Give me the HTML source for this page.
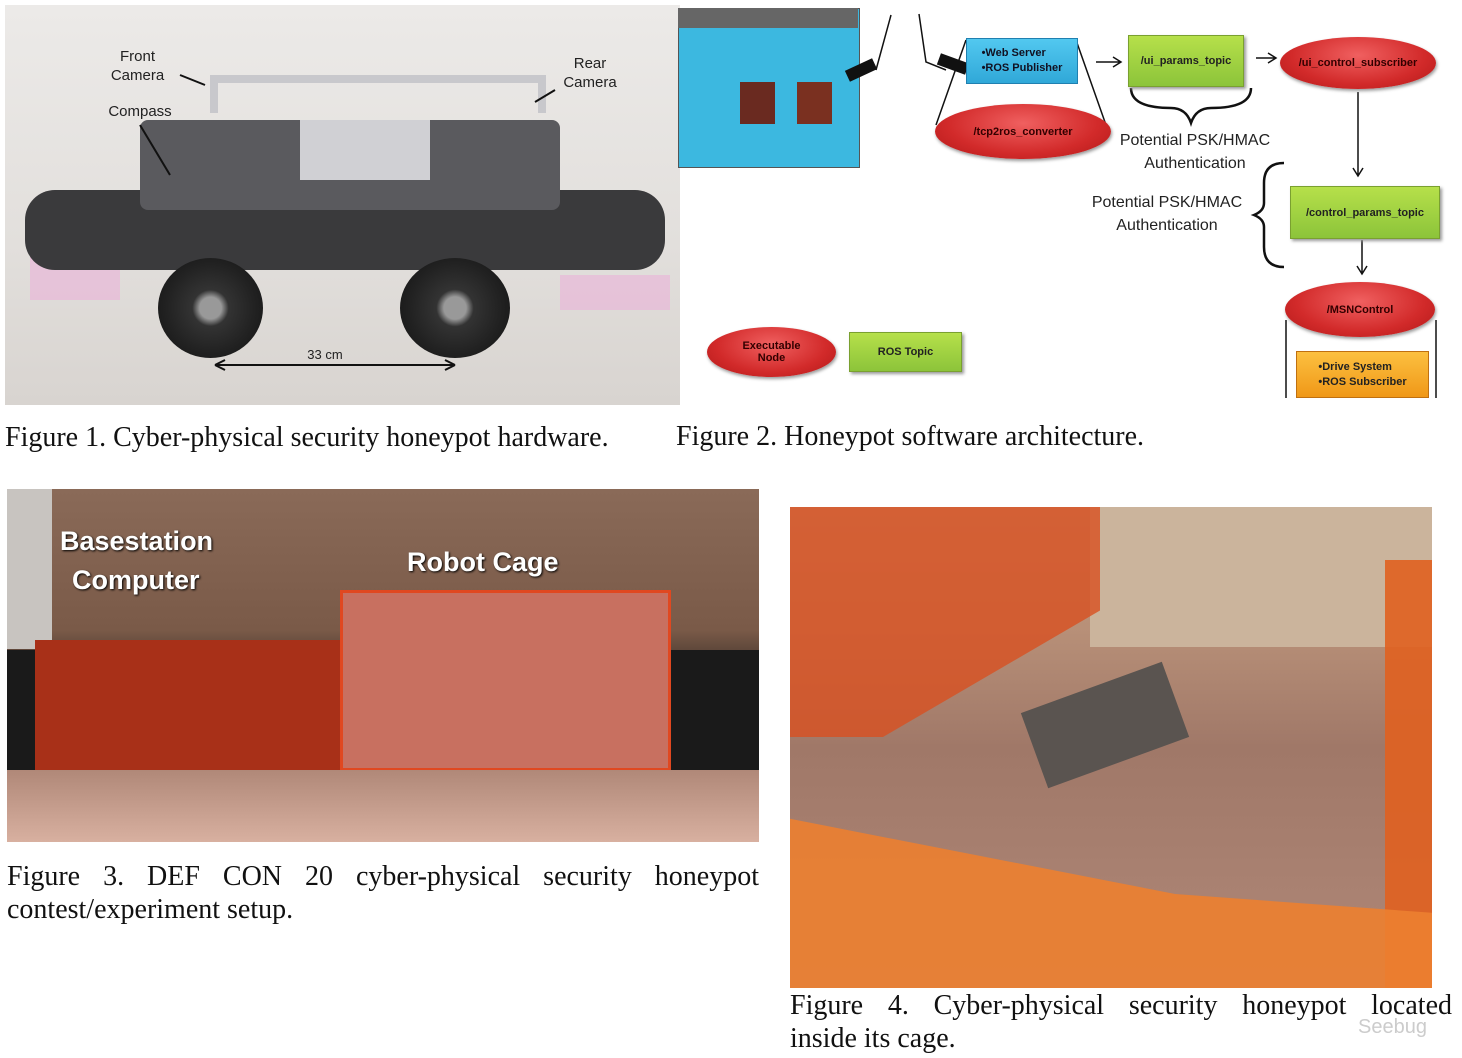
<!DOCTYPE html>
<html><head><meta charset="utf-8"><style>
body{margin:0;width:1462px;height:1058px;background:#fff;position:relative;overflow:hidden;font-family:"Liberation Sans",sans-serif}
.a{position:absolute}
.cap{position:absolute;font-family:"Liberation Serif",serif;font-size:28px;color:#111;white-space:nowrap}
.j{text-align:justify;text-align-last:justify;white-space:normal}
.lbl{position:absolute;font-size:15px;color:#222;text-align:center;line-height:19px}
.node{position:absolute;border-radius:50%;background:radial-gradient(ellipse at 50% 35%,#f06060,#d22a2a 60%,#b01818);color:#300;font-size:11px;display:flex;align-items:center;justify-content:center;text-align:center;box-shadow:1px 2px 3px #999;font-weight:bold}
.topic{position:absolute;background:linear-gradient(#b6e04a,#8cc43a);border:1px solid #7aa030;color:#222;font-size:11px;display:flex;align-items:center;justify-content:center;box-shadow:2px 2px 3px #999;font-weight:bold}
.w{position:absolute;color:#fff;font-weight:bold;font-size:27px;text-shadow:1px 1px 2px #000}
</style></head><body>

<!-- Figure 1 photo -->
<div class="a" style="left:5px;top:5px;width:675px;height:400px;background:linear-gradient(#eceae8,#e2dfdc 60%,#d8d4d0)"></div>
<div class="a" style="left:30px;top:255px;width:90px;height:45px;background:#e8b8d8;opacity:.7"></div>
<div class="a" style="left:560px;top:275px;width:110px;height:35px;background:#e8b8d8;opacity:.7"></div>
<div class="a" style="left:25px;top:190px;width:640px;height:80px;background:#3a3a3c;border-radius:30px"></div>
<div class="a" style="left:140px;top:120px;width:420px;height:90px;background:#5a5a5e;border-radius:8px"></div>
<div class="a" style="left:210px;top:75px;width:320px;height:30px;border:8px solid #c8c8cc;border-bottom:none"></div>
<div class="a" style="left:300px;top:120px;width:130px;height:60px;background:#d0d0d4"></div>
<div class="a" style="left:158px;top:258px;width:105px;height:100px;border-radius:50%;background:radial-gradient(circle,#999 15%,#333 25%,#222 60%,#111)"></div>
<div class="a" style="left:400px;top:258px;width:110px;height:100px;border-radius:50%;background:radial-gradient(circle,#999 15%,#333 25%,#222 60%,#111)"></div>
<div class="lbl" style="left:110px;top:47px;width:55px">Front<br>Camera</div>
<div class="lbl" style="left:100px;top:102px;width:80px">Compass</div>
<div class="lbl" style="left:555px;top:54px;width:70px">Rear<br>Camera</div>
<div class="lbl" style="left:295px;top:345px;width:60px;font-size:13px">33 cm</div>
<svg class="a" style="left:0;top:0" width="680" height="410"><g stroke="#111" stroke-width="2" fill="none"><path d="M215 365H455M215 365l10-5M215 365l10 5M455 365l-10-5M455 365l-10 5"/><path d="M180 75l25 10"/><path d="M555 90l-20 12"/><path d="M140 125l30 50"/></g></svg>

<!-- Figure 2 diagram -->
<div class="a" style="left:678px;top:8px;width:180px;height:158px;background:#3cb8e0;border:1px solid #555"></div>
<div class="a" style="left:678px;top:8px;width:180px;height:20px;background:#666"></div>
<div class="a" style="left:740px;top:82px;width:35px;height:42px;background:#6a2a20"></div>
<div class="a" style="left:797px;top:82px;width:35px;height:42px;background:#7a3020"></div>
<svg class="a" style="left:676px;top:0" width="786" height="410"><g stroke="#111" stroke-width="1.5" fill="none">
<path d="M215 15L200 70M170 72l20 -8"/><path d="M243 14L250 62l20 8"/>
<path d="M290 40L260 125M400 40L430 125"/>
<path d="M420 62h25M437 57l8 5-8 5"/><path d="M580 58h20M592 53l8 5-8 5"/>
<path d="M682 92v83M677 168l5 8 5-8"/><path d="M686 240v33M681 266l5 8 5-8"/>
<path d="M610 320v78M760 320v78"/>
<path d="M455 88q0 20 40 20q15 0 20 15q5-15 20-15q40 0 40-20" stroke-width="2.5"/>
<path d="M608 163q-20 0-20 20v20q0 8-10 12q10 4 10 12v20q0 20 20 20" stroke-width="2.5"/>
</g>
<g fill="#111"><rect x="170" y="64" width="30" height="12" transform="rotate(-25 185 70)"/><rect x="262" y="58" width="30" height="12" transform="rotate(20 277 64)"/></g></svg>
<div class="a" style="left:966px;top:38px;width:110px;height:44px;background:linear-gradient(#52c8f0,#30a8d8);border:1px solid #2080b0;color:#112;font-size:11px;font-weight:bold;display:flex;flex-direction:column;align-items:center;justify-content:center;line-height:15px">•Web Server<br>•ROS Publisher</div>
<div class="node" style="left:935px;top:104px;width:176px;height:55px">/tcp2ros_converter</div>
<div class="topic" style="left:1128px;top:35px;width:114px;height:50px">/ui_params_topic</div>
<div class="node" style="left:1280px;top:37px;width:156px;height:52px">/ui_control_subscriber</div>
<div class="topic" style="left:1290px;top:186px;width:148px;height:51px">/control_params_topic</div>
<div class="node" style="left:1285px;top:282px;width:150px;height:55px">/MSNControl</div>
<div class="a" style="left:1296px;top:351px;width:131px;height:45px;background:linear-gradient(#fcc040,#f09818);border:1px solid #c07010;color:#222;font-size:11px;font-weight:bold;display:flex;flex-direction:column;align-items:center;justify-content:center;line-height:15px">•Drive System<br>•ROS Subscriber</div>
<div class="node" style="left:707px;top:327px;width:129px;height:50px">Executable<br>Node</div>
<div class="topic" style="left:849px;top:332px;width:111px;height:38px">ROS Topic</div>
<div class="lbl" style="left:1105px;top:129px;width:180px;font-size:16px;line-height:23px">Potential PSK/HMAC<br>Authentication</div>
<div class="lbl" style="left:1077px;top:191px;width:180px;font-size:16px;line-height:23px">Potential PSK/HMAC<br>Authentication</div>

<div class="cap" style="left:5px;top:422px">Figure 1. Cyber-physical security honeypot hardware.</div>
<div class="cap" style="left:676px;top:421px">Figure 2. Honeypot software architecture.</div>

<!-- Figure 3 photo -->
<div class="a" style="left:7px;top:489px;width:752px;height:353px;background:linear-gradient(#8a6a58,#7a5a48 40%,#4a3a30 50%,#a88070 75%,#c09080)"></div>
<div class="a" style="left:7px;top:489px;width:45px;height:160px;background:#c8c4c0"></div>
<div class="a" style="left:7px;top:650px;width:752px;height:130px;background:#1a1a1a"></div>
<div class="a" style="left:35px;top:640px;width:330px;height:140px;background:#a83018"></div>
<div class="a" style="left:340px;top:590px;width:325px;height:175px;background:#c87060;border:3px solid #e04820"></div>
<div class="a" style="left:7px;top:770px;width:752px;height:72px;background:linear-gradient(#b08878,#d8b0a0)"></div>
<div class="w" style="left:60px;top:526px">Basestation</div>
<div class="w" style="left:72px;top:565px">Computer</div>
<div class="w" style="left:407px;top:547px">Robot Cage</div>

<div class="cap j" style="left:7px;top:860px;width:752px;line-height:34px">Figure 3. DEF CON 20 cyber-physical security honeypot</div>
<div class="cap" style="left:7px;top:894px">contest/experiment setup.</div>

<!-- Figure 4 photo -->
<div class="a" style="left:790px;top:507px;width:642px;height:481px;background:linear-gradient(#c0a088,#b89078 25%,#a07868 50%,#b08878)"></div>
<div class="a" style="left:1090px;top:507px;width:342px;height:140px;background:#cbb49c"></div>
<div class="a" style="left:790px;top:507px;width:310px;height:230px;background:#d85020;opacity:.8;clip-path:polygon(0 0,100% 0,100% 45%,30% 100%,0 100%)"></div>
<div class="a" style="left:1385px;top:560px;width:47px;height:428px;background:#e06020;opacity:.9"></div>
<div class="a" style="left:790px;top:800px;width:642px;height:188px;background:#ec8030;opacity:.9;clip-path:polygon(0 10%,60% 50%,100% 60%,100% 100%,0 100%)"></div>
<div class="a" style="left:1030px;top:685px;width:150px;height:80px;background:#5a5450;transform:rotate(-20deg)"></div>

<div class="cap j" style="left:790px;top:989px;width:662px;line-height:34px">Figure 4. Cyber-physical security honeypot located</div>
<div class="cap" style="left:790px;top:1023px">inside its cage.</div>
<div class="a" style="left:1358px;top:1016px;color:#ccc;font-size:20px">Seebug</div>
</body></html>
